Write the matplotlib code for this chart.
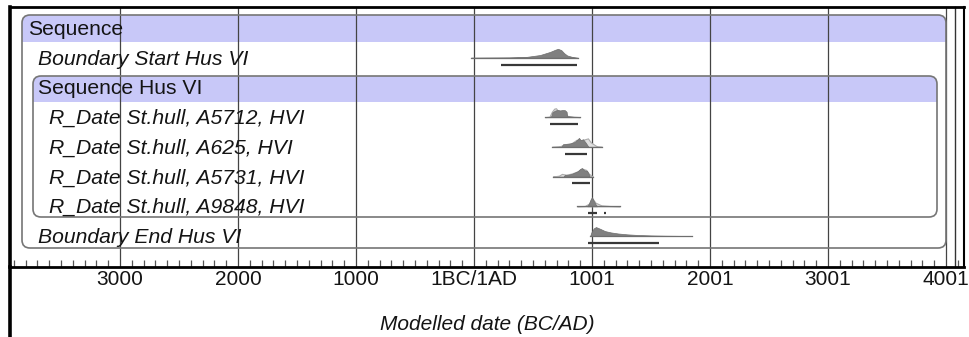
import matplotlib
matplotlib.use('Agg')
import matplotlib.pyplot as plt
from matplotlib.patches import FancyBboxPatch, Rectangle
from matplotlib.lines import Line2D
from matplotlib.ticker import FixedLocator
import matplotlib.transforms as mtransforms
import numpy as np

plt.rcParams['font.family'] = ['Liberation Sans', 'DejaVu Sans']

# row labels, top to bottom
labels = ["Sequence", "Boundary Start Hus VI", "Sequence Hus VI",
          "R_Date St.hull, A5712, HVI", "R_Date St.hull, A625, HVI",
          "R_Date St.hull, A5731, HVI", "R_Date St.hull, A9848, HVI",
          "Boundary End Hus VI"]
kinds = ["seq", "item", "seq", "item2", "item2", "item2", "item2", "item"]

tick_years = [-2999, -1999, -999, 1, 1001, 2001, 3001, 4001]
tick_labels = ["3000", "2000", "1000", "1BC/1AD", "1001", "2001", "3001", "4001"]

# posterior / likelihood shapes (year, relative height)
start_x = [-25, 300, 450, 560, 645, 690, 712, 740, 765, 790, 830, 881]
start_h = [0, 0.03, 0.1, 0.3, 0.65, 0.9, 1.0, 0.85, 0.5, 0.25, 0.1, 0]
start_rng = [(229, 873)]

a5712_x = [640, 655, 665, 690, 712, 730, 750, 770, 785, 790, 830, 880]
a5712_h = [0, 0.1, 0.55, 0.75, 0.8, 0.75, 0.8, 0.78, 0.6, 0.1, 0.05, 0]
a5712_lx = [602, 640, 660, 680, 695, 712, 730, 760, 790, 840, 898]
a5712_lh = [0, 0.05, 0.6, 0.95, 1.0, 0.7, 0.6, 0.5, 0.15, 0.05, 0]
a5712_rng = [(648, 878)]

a625_x = [740, 755, 790, 820, 856, 875, 890, 905, 924, 945, 960, 970]
a625_h = [0, 0.3, 0.35, 0.4, 0.55, 0.8, 1.0, 0.75, 0.85, 0.5, 0.2, 0]
a625_lx = [661, 720, 760, 820, 870, 900, 940, 966, 990, 1042, 1085]
a625_lh = [0, 0.05, 0.2, 0.35, 0.8, 0.7, 0.85, 0.95, 0.5, 0.05, 0]
a625_rng = [(771, 958)]

a5731_x = [760, 771, 800, 830, 856, 880, 900, 915, 935, 958, 972, 980]
a5731_h = [0, 0.2, 0.2, 0.3, 0.45, 0.6, 0.85, 0.95, 0.7, 0.65, 0.3, 0]
a5731_lx = [669, 720, 746, 780, 830, 880, 915, 950, 975, 1008]
a5731_lh = [0, 0.1, 0.3, 0.2, 0.35, 0.6, 0.9, 0.75, 0.3, 0]
a5731_rng = [(831, 983)]

a9848_x = [960, 975, 990, 1000, 1015, 1034, 1045]
a9848_h = [0, 0.3, 0.8, 1.0, 0.6, 0.15, 0]
a9848_lx = [873, 940, 975, 1000, 1030, 1080, 1150, 1237]
a9848_lh = [0, 0.03, 0.3, 0.95, 0.4, 0.1, 0.03, 0]
a9848_rng = [(966, 1042), (1103, 1117)]

end_x = [985, 995, 1015, 1034, 1070, 1110, 1160, 1220, 1300, 1390, 1500, 1620, 1847]
end_h = [0, 0.4, 0.85, 1.0, 0.8, 0.55, 0.4, 0.28, 0.18, 0.11, 0.06, 0.03, 0]
end_rng = [(966, 1568)]

dists = [
    (1, start_x, start_h, None, None, start_rng),
    (3, a5712_x, a5712_h, a5712_lx, a5712_lh, a5712_rng),
    (4, a625_x, a625_h, a625_lx, a625_lh, a625_rng),
    (5, a5731_x, a5731_h, a5731_lx, a5731_lh, a5731_rng),
    (6, a9848_x, a9848_h, a9848_lx, a9848_lh, a9848_rng),
    (7, end_x, end_h, None, None, end_rng),
]

W, H = 970, 337
fig = plt.figure(figsize=(W / 100, H / 100), dpi=100)
ax = fig.add_axes([10 / W, (H - 267) / H, 954 / W, 260 / H])
xlo, xhi = -3932, 4153
ax.set_xlim(xlo, xhi)
ROW = 29.71
ax.set_ylim((267 - 28) / ROW, (7 - 28) / ROW)

def px2x(px):
    return xlo + (px - 10) / 954 * (xhi - xlo)

def px2r(py):
    return (py - 28) / ROW

asp = (954 / (xhi - xlo)) / ROW
lav = '#c8c8f8'

# nested sequence boxes
for (l, r, t, bb, b) in [(22, 946, 15, 42, 248), (33, 937, 76, 102, 217)]:
    x0, x1 = px2x(l), px2x(r)
    y0, y1, yb = px2r(t), px2r(b), px2r(bb)
    box = FancyBboxPatch((x0, y0), x1 - x0, y1 - y0,
                         boxstyle="round,pad=0,rounding_size=%f" % (8 / (954 / (xhi - xlo))),
                         mutation_aspect=asp, facecolor='none', edgecolor='#767676',
                         lw=1.2, zorder=1.6)
    ax.add_patch(box)
    band = Rectangle((x0, y0), x1 - x0, yb - y0, facecolor=lav, edgecolor='none', zorder=0.9)
    ax.add_patch(band)
    band.set_clip_path(box)

# labels
trans = mtransforms.blended_transform_factory(ax.transAxes, ax.transData)
indent = {"item": 38, "item2": 49}
for i, (lab, k) in enumerate(zip(labels, kinds)):
    if k == "seq":
        px = 28 if i == 0 else 38
        style = 'normal'
    else:
        px = indent[k]
        style = 'italic'
    ax.text((px - 10) / 954, i + 0.05, lab, transform=trans, ha='left', va='center',
            fontsize=15.2, style=style, color='#141414', zorder=3)

# distributions
S = 0.30
for row, px_, ph, lx, lh, rng in dists:
    if lx is not None:
        ax.fill_between(lx, row, row - np.array(lh) * S, facecolor='#e0e0e0',
                        edgecolor='#ababab', lw=0.8, zorder=2)
    ax.fill_between(px_, row, row - np.array(ph) * S, facecolor='#808080',
                    edgecolor='#6e6e6e', lw=0.5, zorder=2.1)
    lo = min(px_[0], lx[0]) if lx is not None else px_[0]
    hi = max(px_[-1], lx[-1]) if lx is not None else px_[-1]
    ax.plot([lo, hi], [row, row], color='#6e6e6e', lw=0.9, zorder=2.2)
    for a, b in rng:
        ax.plot([a, b], [row + 0.23, row + 0.23], color='#383838', lw=1.6,
                solid_capstyle='butt', zorder=2.3)

# axis
for s in ['left', 'top', 'bottom']:
    ax.spines[s].set_color('black')
ax.spines['left'].set_linewidth(2.6)
ax.spines['top'].set_linewidth(2)
ax.spines['bottom'].set_linewidth(2)
ax.spines['right'].set_linewidth(1.5)
ax.set_yticks([])
ax.set_xticks(tick_years, tick_labels)
ax.xaxis.set_minor_locator(FixedLocator(np.arange(-3899, 4102, 100)))
ax.tick_params(axis='x', which='major', direction='in', length=0, labelsize=15,
               pad=2, labelcolor='#141414')
ax.tick_params(axis='x', which='minor', direction='in', length=5, width=0.9, color='#555555')
ax.grid(axis='x', color='#444444', lw=0.9)
ax.set_xlabel("Modelled date (BC/AD)", style='italic', fontsize=15, labelpad=19,
              color='#141414')
f = (955 - 10) / 954
ax.plot([f, f], [0, 1], transform=ax.transAxes, color='#333333', lw=1, clip_on=False)

fig.add_artist(Line2D([10 / W, 10 / W], [0, (H - 267) / H], color='black', lw=2.6))

fig.savefig('out.png', dpi=100, facecolor='white')
